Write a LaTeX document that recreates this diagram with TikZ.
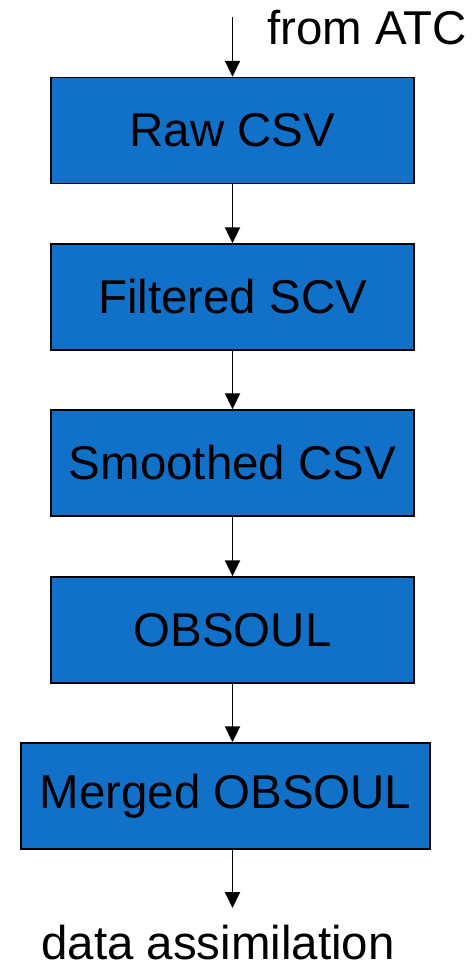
\documentclass[tikz,border=0pt]{standalone}
\usepackage{fontspec}
\setmainfont{Liberation Sans}
\usepackage{tikz}
\usetikzlibrary{arrows.meta,positioning}
\usepackage{xcolor}
\definecolor{StageBlue}{HTML}{1170C8}
\tikzset{
  stage node/.style={draw=black,fill=StageBlue,line width=0.8pt,
    align=center,minimum height=21.2mm,minimum width=72.6mm,inner sep=0pt},
  end label/.style={inner sep=0pt},
  flow arrow/.style={-{Triangle[width=3mm,length=3.2mm]},draw=black,line width=1.1pt}
}
\begin{document}
\begin{tikzpicture}[font=\fontsize{27}{32}\selectfont]
  \useasboundingbox (0,0) rectangle (9.46,-19.38);
  \coordinate (src) at (4.65,-0.34);
  \node[end label,anchor=base west] (atc) at (5.34,-0.9) {from ATC};
  \node[stage node] (raw) at (4.65,-2.61) {Raw CSV};
  \node[stage node] (filtered) at (4.65,-5.94) {Filtered SCV};
  \node[stage node] (smoothed) at (4.65,-9.26) {Smoothed CSV};
  \node[stage node] (obsoul) at (4.65,-12.60) {OBSOUL};
  \node[stage node,minimum width=81.8mm] (merged) at (4.51,-15.92) {Merged OBSOUL};
  \coordinate (sink) at (4.65,-18.16);
  \node[end label,anchor=base] (da) at (4.36,-19.18) {data assimilation};
  \draw[flow arrow] (src) -- (raw);
  \draw[flow arrow] (raw) -- (filtered); \draw[flow arrow] (filtered) -- (smoothed);
  \draw[flow arrow] (smoothed) -- (obsoul); \draw[flow arrow] (obsoul) -- (merged.north -| raw);
  \draw[flow arrow] (merged.south -| raw) -- (sink);
\end{tikzpicture}
\end{document}
